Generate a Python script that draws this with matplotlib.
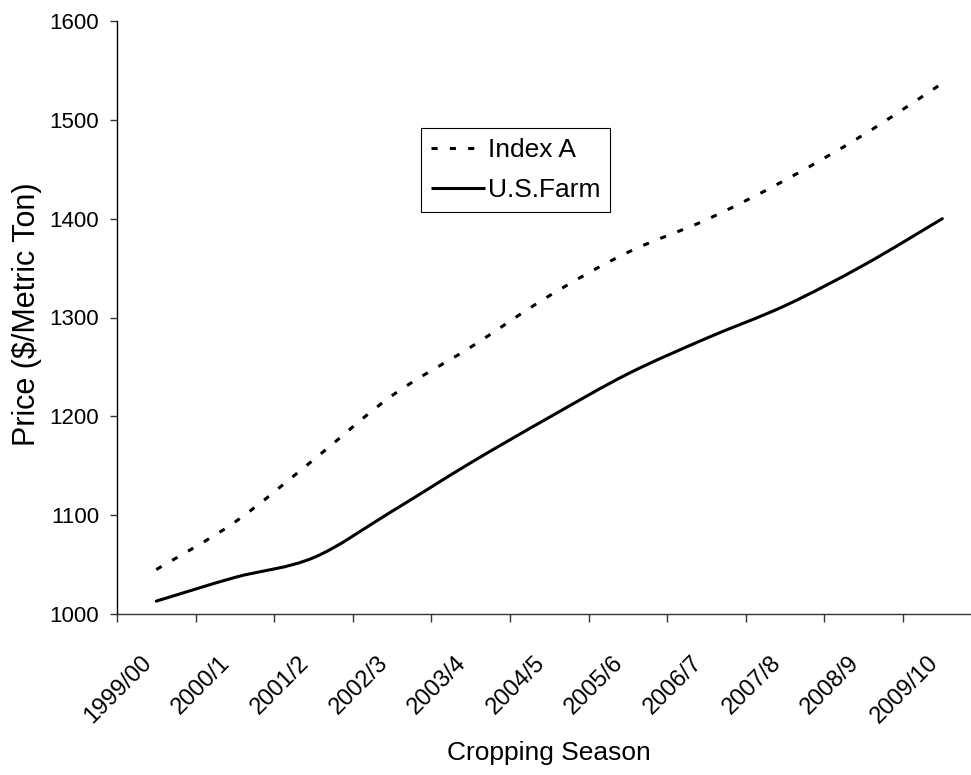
import numpy as np
import matplotlib
matplotlib.use("Agg")
import matplotlib.pyplot as plt
from matplotlib.path import Path
from matplotlib.patches import PathPatch
from matplotlib.lines import Line2D

# Datos ($/tonelada métrica)
temporadas = ["1999/00", "2000/1", "2001/2", "2002/3", "2003/4", "2004/5",
              "2005/6", "2006/7", "2007/8", "2008/9", "2009/10"]
index_a = [1045, 1093, 1156, 1221, 1270, 1322, 1366, 1399, 1439, 1485, 1537]
us_farm = [1013, 1037, 1057, 1104, 1153, 1199, 1243, 1279, 1312, 1353, 1400]


def curva_suave(x, y):
    """Línea suavizada estilo Excel: Bézier cúbico con tangentes de Catmull-Rom."""
    pts = np.column_stack([x, y]).astype(float)
    n = len(pts)
    verts = [pts[0]]
    codes = [Path.MOVETO]
    for i in range(n - 1):
        p0 = pts[max(i - 1, 0)]
        p1 = pts[i]
        p2 = pts[i + 1]
        p3 = pts[min(i + 2, n - 1)]
        verts += [p1 + (p2 - p0) / 6, p2 - (p3 - p1) / 6, p2]
        codes += [Path.CURVE4] * 3
    return Path(verts, codes)


plt.rcParams.update({
    "font.family": ["Liberation Sans", "DejaVu Sans"],
    "text.color": "black",
    "axes.labelcolor": "black",
    "xtick.color": "#333333",
    "ytick.color": "#333333",
    "xtick.labelcolor": "black",
    "ytick.labelcolor": "black",
})

fig = plt.figure(figsize=(9.71, 7.75), dpi=100)
ax = fig.add_axes([117 / 971, 1 - 614 / 775, 854 / 971, 593 / 775])

x = np.arange(len(temporadas))
lw = 2.2
guiones = (2.0, 4.0)

ax.add_patch(PathPatch(curva_suave(x, index_a), fill=False, edgecolor="black",
                       linewidth=lw, linestyle=(0, guiones), capstyle="butt"))
ax.add_patch(PathPatch(curva_suave(x, us_farm), fill=False, edgecolor="black",
                       linewidth=lw, linestyle="-", capstyle="round", joinstyle="round"))

# Ejes estilo Excel: marcas entre categorías, etiquetas en el centro
ax.set_xlim(-0.5, 10.365)
ax.set_ylim(1000, 1600)
ax.set_yticks(np.arange(1000, 1601, 100))
ax.set_xticks(x)
ax.set_xticklabels(temporadas, rotation=45, ha="right", va="top")
ax.set_xticks(np.arange(-0.5, 10.5, 1), minor=True)
ax.tick_params(axis="x", which="major", length=0, pad=27, labelsize=17)
ax.tick_params(axis="x", which="minor", length=6, width=1, direction="out")
ax.tick_params(axis="y", length=5, width=1, direction="out", pad=8, labelsize=16)

for lado in ("top", "right"):
    ax.spines[lado].set_visible(False)
ax.spines["left"].set_color("black")
ax.spines["bottom"].set_color("#333333")
for lado in ("left", "bottom"):
    ax.spines[lado].set_linewidth(1)

ax.set_xlabel("Cropping Season", fontsize=19)
ax.set_ylabel("Price ($/Metric Ton)", fontsize=22)
ax.xaxis.set_label_coords(0.506, -0.215)
ax.yaxis.set_label_coords(-0.088, 0.506)

manejadores = [
    Line2D([], [], color="black", linewidth=lw, dashes=guiones, dash_capstyle="butt"),
    Line2D([], [], color="black", linewidth=lw, solid_capstyle="butt"),
]
leg = ax.legend(manejadores, ["Index A", "U.S.Farm"], loc="upper left",
                bbox_to_anchor=(0.356, 0.8195), borderaxespad=0, fontsize=19,
                frameon=True, fancybox=False, edgecolor="black", framealpha=1,
                handlelength=2.05, handletextpad=0.1, borderpad=0.38, labelspacing=0.6)
leg.get_frame().set_linewidth(0.8)

fig.savefig("out.png", dpi=100)
